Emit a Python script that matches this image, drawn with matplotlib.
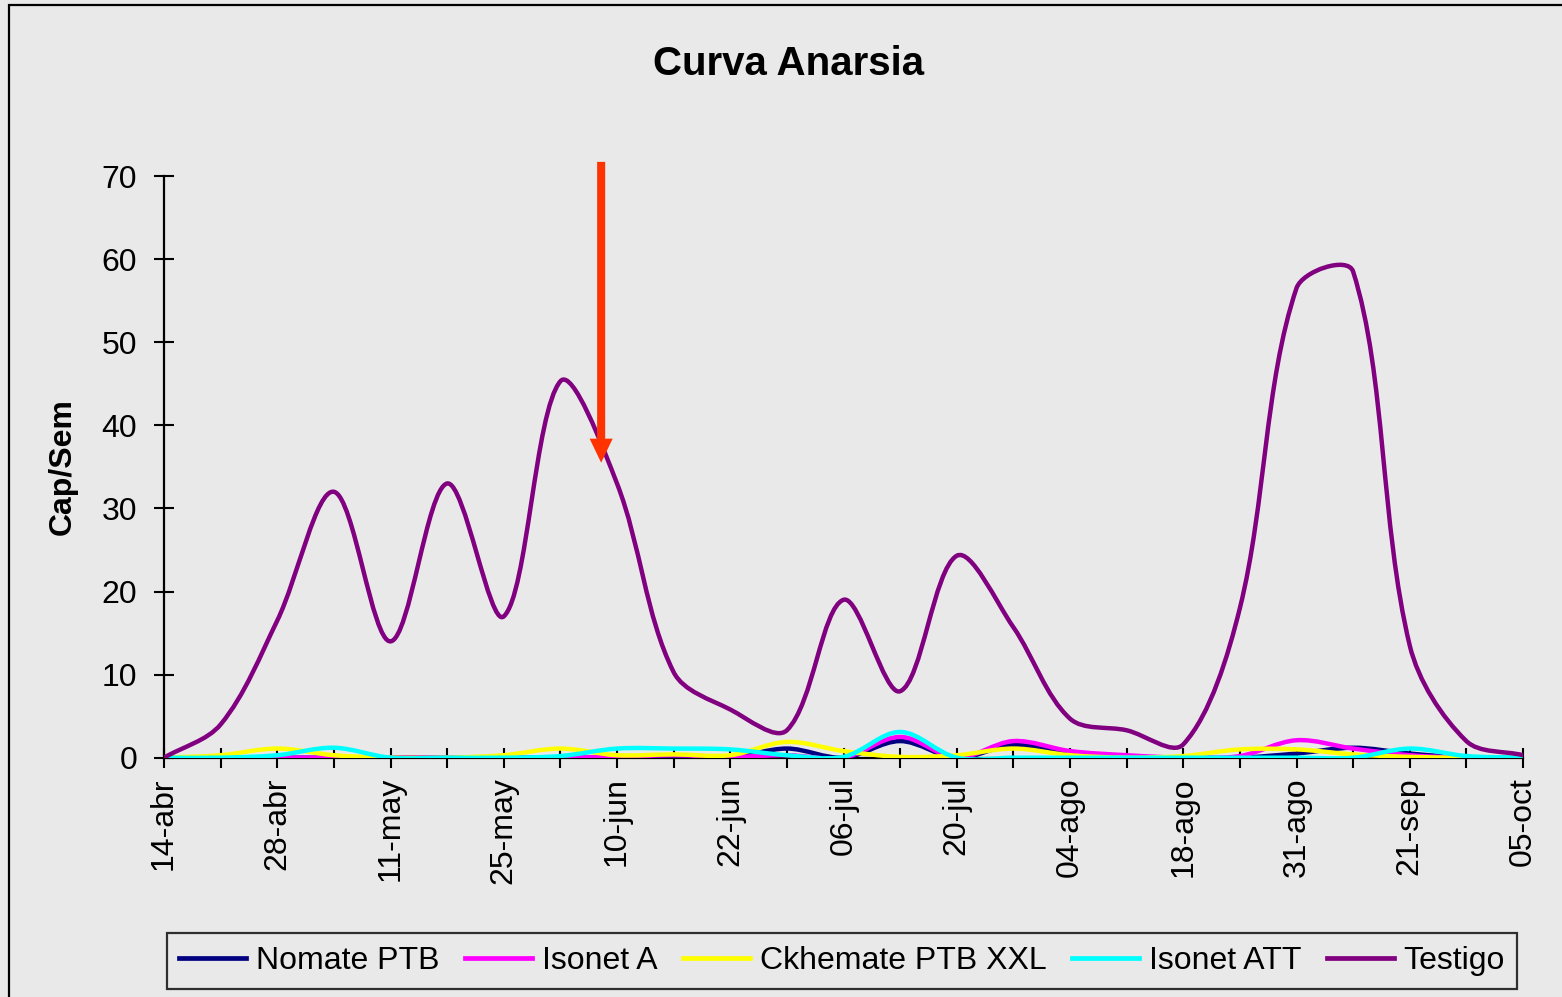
import numpy as np
import matplotlib
matplotlib.use("Agg")
import matplotlib.pyplot as plt
from matplotlib.path import Path
from matplotlib.patches import PathPatch, FancyArrowPatch, Rectangle, ArrowStyle
from matplotlib.lines import Line2D

plt.rcParams['font.family'] = ['Liberation Sans', 'DejaVu Sans']

# ---------------- data ----------------
tick_labels = ['14-abr', '28-abr', '11-may', '25-may', '10-jun', '22-jun', '06-jul',
               '20-jul', '04-ago', '18-ago', '31-ago', '21-sep', '05-oct']
n_weeks = 25  # weekly samples, every second one labelled

nomate_ptb = [0, 0, 0, 0, 0, 0, 0, 0, 0, 0, 0, 1.1, 0, 2.0, 0, 1.5, 0.6, 0, 0, 0,
              0.5, 1.2, 0.5, 0, 0]
isonet_a = [0, 0, 0, 0, 0, 0, 0, 0, 0.1, 0.3, 0.1, 0.3, 0, 2.5, 0, 2.0, 0.8, 0.3, 0,
            0.2, 2.1, 1.1, 0.3, 0, 0]
ckhemate_ptb_xxl = [0, 0.3, 1.1, 0.3, 0, 0, 0.3, 1.1, 0.3, 0.4, 0.3, 1.9, 0.8, 0.1,
                    0.3, 1.1, 0.3, 0, 0.2, 1.0, 1.0, 0.4, 0.1, 0, 0]
isonet_att = [0, 0, 0.3, 1.2, 0, 0, 0, 0.2, 1.1, 1.1, 1.0, 0.3, 0.1, 3.1, 0, 0, 0, 0,
              0, 0, 0, 0, 1.1, 0.2, 0]
testigo = [0, 4, 16.5, 32, 14, 33, 17, 45.3, 33, 10.3, 5.8, 3.3, 19, 8, 24.3, 15.7,
           4.7, 3.3, 1.6, 18, 56.5, 58.5, 13.5, 2, 0.3]

series_names = ['Nomate PTB', 'Isonet A', 'Ckhemate PTB XXL', 'Isonet ATT', 'Testigo']
series_values = [nomate_ptb, isonet_a, ckhemate_ptb_xxl, isonet_att, testigo]
series_colors = ['#000080', '#FF00FF', '#FFFF00', '#00FFFF', '#800080']

# arrow annotation (between 03-jun and 10-jun)
arrow_x = 7.72
arrow_from, arrow_to = 71.7, 35.5

# ---------------- figure ----------------
W, H = 1562, 997
bg = '#e9e9e9'
fig = plt.figure(figsize=(W / 100, H / 100), dpi=100, facecolor=bg)
ax = fig.add_axes([164 / W, 1 - 757.7 / H, (1523 - 164) / W, (757.7 - 176) / H])
ax.patch.set_alpha(0)
ax.set_xlim(0, n_weeks - 1)
ax.set_ylim(0, 70)

for s in ['top', 'right']:
    ax.spines[s].set_visible(False)
for s in ['left', 'bottom']:
    ax.spines[s].set_linewidth(1.6)
    ax.spines[s].set_color('black')

ax.set_yticks(np.arange(0, 71, 10))
xt = np.arange(n_weeks)
ax.set_xticks(xt)
full_labels = [tick_labels[i // 2] if i % 2 == 0 else '' for i in xt]
ax.set_xticklabels(full_labels, rotation=90)
ax.tick_params(axis='both', direction='inout', length=14.4, width=1.5,
               labelsize=23, color='black')
ax.tick_params(axis='y', pad=12.2)
ax.tick_params(axis='x', pad=6.7)
ax.set_ylabel('Cap/Sem', fontsize=23, fontweight='bold', labelpad=17)


def smooth_path(ax, xs, ys):
    pts = ax.transData.transform(np.column_stack([xs, ys]))
    n = len(pts)
    verts = [pts[0]]
    codes = [Path.MOVETO]
    for i in range(n - 1):
        p0 = pts[i - 1] if i > 0 else pts[i]
        p1 = pts[i]
        p2 = pts[i + 1]
        p3 = pts[i + 2] if i + 2 < n else pts[i + 1]
        d01 = np.hypot(*(p1 - p0))
        d12 = np.hypot(*(p2 - p1))
        d23 = np.hypot(*(p3 - p2))
        f1 = d12 / (d01 + d12) / 3 if d01 + d12 > 0 else 0
        f2 = d12 / (d12 + d23) / 3 if d12 + d23 > 0 else 0
        c1 = p1 + (p2 - p0) * f1
        c2 = p2 - (p3 - p1) * f2
        verts += [c1, c2, p2]
        codes += [Path.CURVE4] * 3
    dverts = ax.transData.inverted().transform(np.array(verts))
    return Path(dverts, codes)


handles = []
for name, vals, col in zip(series_names, series_values, series_colors):
    p = smooth_path(ax, xt, vals)
    ax.add_patch(PathPatch(p, fill=False, edgecolor=col, lw=3.2, zorder=3,
                           capstyle='round', joinstyle='round'))
    handles.append(Line2D([], [], color=col, lw=3.4))

# red arrow
arr = FancyArrowPatch((arrow_x, arrow_from), (arrow_x, arrow_to),
                      arrowstyle=ArrowStyle.Simple(head_length=17.3, head_width=16.6,
                                                   tail_width=5.8),
                      mutation_scale=1, color='#ff3300', lw=0, shrinkA=0, shrinkB=0,
                      clip_on=False, zorder=5)
ax.add_patch(arr)

# title
fig.text(789 / W, 1 - 64 / H, 'Curva Anarsia', ha='center', va='center',
         fontsize=29, fontweight='bold')

# legend
leg = fig.legend(handles, series_names, loc='center',
                 bbox_to_anchor=(842 / W, 1 - 961 / H), ncol=5, fontsize=23,
                 frameon=True, fancybox=False, edgecolor='black', facecolor='none',
                 handlelength=2.1, handletextpad=0.3, columnspacing=0.8,
                 borderpad=0.4, borderaxespad=0)
leg.get_frame().set_linewidth(1.6)

# chart-area border
fig.patches.append(Rectangle((9 / W, -0.05), 1.2, 1 - 5 / H + 0.05,
                             transform=fig.transFigure, fill=False,
                             edgecolor='black', lw=1.6))

fig.savefig('out.png', dpi=100, facecolor=bg)
